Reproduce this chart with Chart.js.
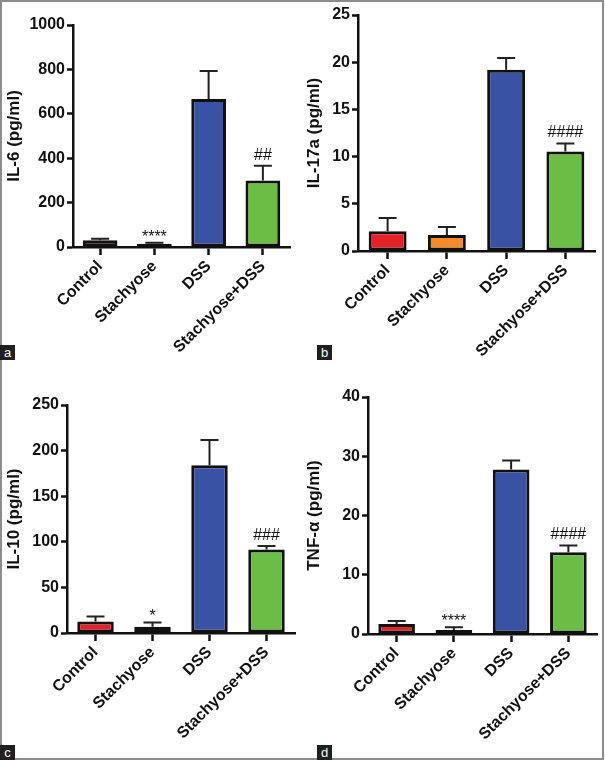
<!DOCTYPE html>
<html>
<head>
<meta charset="utf-8">
<script src="https://cdn.jsdelivr.net/npm/chart.js@4"></script>
<style>
    body { margin: 0; background: #fff; }
    #fig { position: relative; width: 605px; height: 761px; }
    #frame { position: absolute; left: 0; top: 0; width: 604px; height: 760px; border: 2px solid #8c8c8c; box-sizing: border-box; }
    canvas { position: absolute; }
    .tag { position: absolute; width: 15px; height: 15px; background: #231f20; color: #fff;
           font: 13px 'Liberation Sans', Arial, sans-serif; line-height: 15px; text-align: center; }
</style>
</head>
<body>
<div id="fig">
    <div id="frame"></div>
    <canvas id="chartA" width="300" height="380" style="left:0;top:0"></canvas>
    <canvas id="chartB" width="305" height="380" style="left:300px;top:0"></canvas>
    <canvas id="chartC" width="300" height="381" style="left:0;top:380px"></canvas>
    <canvas id="chartD" width="305" height="381" style="left:300px;top:380px"></canvas>
    <div class="tag" style="left:0;top:345px">a</div>
    <div class="tag" style="left:317px;top:345px">b</div>
    <div class="tag" style="left:0;top:745px">c</div>
    <div class="tag" style="left:317px;top:745px">d</div>
</div>
<script>
// Grupos y colores
const grupos = ['Control', 'Stachyose', 'DSS', 'Stachyose+DSS'];
const colores = ['#e4222a', '#f28c28', '#3a52a3', '#6cbd45'];

// IL-6
const il6Media = [30, 15, 667, 300];
const il6Error = [7, 4, 126, 66];
const il6Marcas = ['', '****', '', '##'];

// IL-17a
const il17aMedia = [2.1, 1.7, 19.2, 10.55];
const il17aError = [1.4, 0.85, 1.25, 0.85];
const il17aMarcas = ['', '', '', '####'];

// IL-10
const il10Media = [12.7, 6.9, 184, 91.5];
const il10Error = [5.5, 4.7, 27.5, 4];
const il10Marcas = ['', '*', '', '###'];

// TNF-α
const tnfMedia = [1.7, 0.67, 27.75, 13.8];
const tnfError = [0.5, 0.45, 1.55, 1.15];
const tnfMarcas = ['', '****', '', '####'];

const fuente = "'Liberation Sans', Arial, sans-serif";

// Barras de error (solo hacia arriba) y marcas de significancia
const errorBarPlugin = {
    id: 'errorBars',
    afterDatasetsDraw(chart) {
        const ctx = chart.ctx;
        const yScale = chart.scales.y;
        const meta = chart.getDatasetMeta(0);
        const ds = chart.data.datasets[0];
        ctx.save();
        ctx.strokeStyle = '#222';
        ctx.lineWidth = 2;
        meta.data.forEach((bar, i) => {
            const v = ds.data[i];
            const yBar = yScale.getPixelForValue(v);
            const yTop = yScale.getPixelForValue(v + ds.errores[i]);
            ctx.beginPath();
            ctx.moveTo(bar.x, yBar);
            ctx.lineTo(bar.x, yTop);
            ctx.moveTo(bar.x - 9, yTop);
            ctx.lineTo(bar.x + 9, yTop);
            ctx.stroke();
            const marca = ds.marcas[i];
            if (marca) {
                ctx.fillStyle = '#111';
                ctx.font = '16px ' + fuente;
                ctx.textAlign = 'center';
                ctx.textBaseline = 'alphabetic';
                const off = marca.charAt(0) === '*' ? 1 : 6;
                ctx.fillText(marca, bar.x, yTop - off);
            }
        });
        ctx.restore();
    }
};

function crearPanel(id, media, error, marcas, titulo, yMax, paso, caja) {
    new Chart(document.getElementById(id), {
        type: 'bar',
        data: {
            labels: grupos,
            datasets: [{
                data: media,
                errores: error,
                marcas: marcas,
                backgroundColor: colores,
                borderColor: '#111',
                borderWidth: 3,
                borderSkipped: false,
                categoryPercentage: 1,
                barPercentage: 0.64
            }]
        },
        options: {
            responsive: false,
            animation: false,
            layout: {
                padding: { top: caja.top, right: caja.right, bottom: 0, left: 0 }
            },
            plugins: {
                legend: { display: false },
                tooltip: { enabled: false }
            },
            scales: {
                x: {
                    afterFit: s => { s.height = caja.xH; },
                    grid: {
                        offset: false,
                        drawOnChartArea: false,
                        tickLength: 8,
                        tickWidth: 2.5,
                        tickColor: '#111'
                    },
                    border: { color: '#111', width: 2.5 },
                    ticks: {
                        color: '#111',
                        autoSkip: false,
                        minRotation: 45,
                        maxRotation: 45,
                        padding: 2,
                        font: { family: fuente, size: 16, weight: 'bold' }
                    }
                },
                y: {
                    min: 0,
                    max: yMax,
                    afterFit: s => { s.width = caja.yW; },
                    grid: {
                        drawOnChartArea: false,
                        tickLength: 6,
                        tickWidth: 2.5,
                        tickColor: '#111'
                    },
                    border: { color: '#111', width: 2.5 },
                    ticks: {
                        stepSize: paso,
                        color: '#111',
                        padding: 2,
                        callback: v => String(v),
                        font: { family: fuente, size: 16, weight: 'bold' }
                    },
                    title: {
                        display: true,
                        text: titulo,
                        color: '#111',
                        padding: { top: 4, bottom: 4 },
                        font: { family: fuente, size: 17, weight: 'bold' }
                    }
                }
            }
        },
        plugins: [errorBarPlugin]
    });
}

crearPanel('chartA', il6Media, il6Error, il6Marcas, 'IL-6 (pg/ml)', 1000, 200,
    { top: 25, right: 10, yW: 73, xH: 133 });
crearPanel('chartB', il17aMedia, il17aError, il17aMarcas, 'IL-17a (pg/ml)', 25, 5,
    { top: 15, right: 10, yW: 58, xH: 129 });
crearPanel('chartC', il10Media, il10Error, il10Marcas, 'IL-10 (pg/ml)', 250, 50,
    { top: 25, right: 5, yW: 67, xH: 128 });
crearPanel('chartD', tnfMedia, tnfError, tnfMarcas, 'TNF-α (pg/ml)', 40, 10,
    { top: 17, right: 8, yW: 68, xH: 127 });
</script>
</body>
</html>
